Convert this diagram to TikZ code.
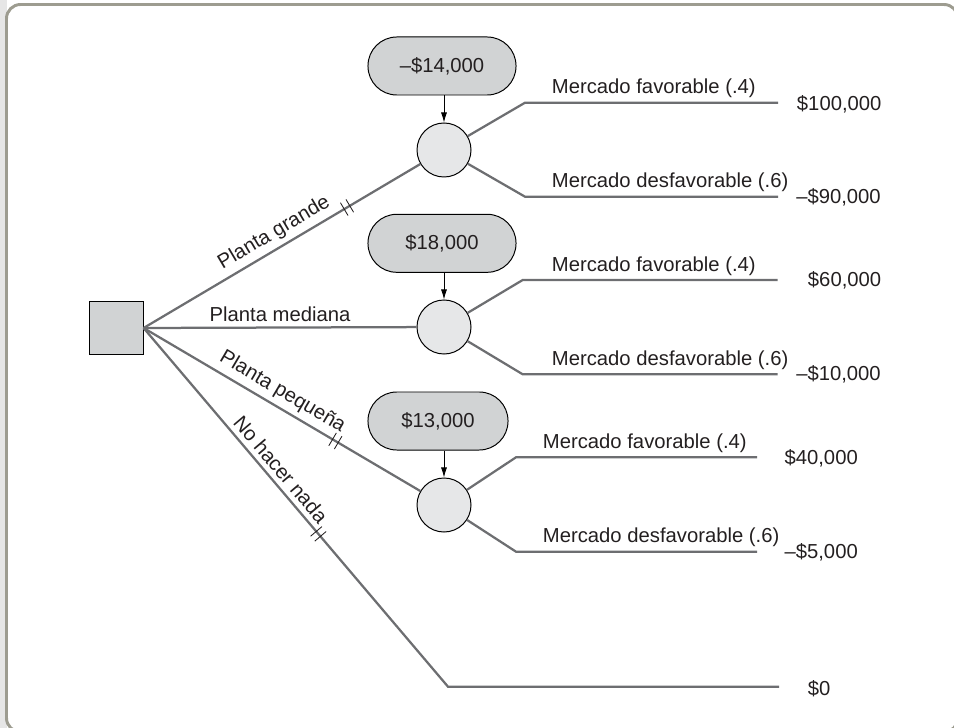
\documentclass[tikz,border=0pt]{standalone}
\usepackage{fontspec}
\setmainfont{Liberation Sans}
\usepackage{tikz}
\usetikzlibrary{arrows.meta, positioning}
\definecolor{mybranch}{HTML}{6D6E71}
\definecolor{mybox}{HTML}{D1D3D4}
\definecolor{mychance}{HTML}{E6E7E8}
\definecolor{myframe}{HTML}{9D9C90}
\definecolor{mystrip}{HTML}{E6E6E6}
\definecolor{mytext}{HTML}{231F20}

\begin{document}
\begin{tikzpicture}[
        x=0.025cm, y=-0.025cm,
        font=\fontsize{14.4}{17}\selectfont, text=mytext,
        decision/.style={rectangle, draw, line width=0.7pt, fill=mybox, minimum size=1.33cm, inner sep=0pt},
        chance/.style={circle, draw, line width=0.7pt, fill=mychance, minimum size=1.35cm, inner sep=0pt},
        cost/.style={rectangle, draw, line width=0.7pt, fill=mybox, rounded corners=0.72cm, minimum width=3.7cm, minimum height=1.45cm},
        lbl/.style={anchor=base west, inner sep=0pt},
        payoff/.style={anchor=base west, inner sep=0pt},
        branch/.style={draw=mybranch, line width=1.6pt},
        hash/.style={sloped, minimum width=3pt, minimum height=9pt, inner sep=0pt},
        line/.style={-{Latex[length=2.5mm, width=1.5mm]}, line width=0.6pt}
    ]
    \useasboundingbox (0,0) rectangle (954,728);
    \fill[mystrip] (0,0) rectangle (6.5,728);
    \draw[myframe, line width=2.1pt, rounded corners=0.35cm] (6.5,4.5) rectangle (958,732);

    \node [decision] (dec) at (116.5,328) {};
    \node [chance] (c1) at (444,150) {};
    \node [chance] (c2) at (444,327) {};
    \node [chance] (c3) at (444,505) {};
    \node [cost] (v1) at (442,66) {–\$14,000};
    \node [cost] (v2) at (442,243.3) {\$18,000};
    \node [cost, minimum width=3.5cm] (v3) at (438,421) {\$13,000};

    \coordinate (k1a) at (525,102.7);   \coordinate (e1a) at (778,102.7);
    \coordinate (k1b) at (525,196.7);   \coordinate (e1b) at (778,196.7);
    \coordinate (k2a) at (522.7,280);   \coordinate (e2a) at (777.7,280);
    \coordinate (k2b) at (522.7,374.3); \coordinate (e2b) at (777.7,374.3);
    \coordinate (k3a) at (516,457.3);   \coordinate (e3a) at (757,457.3);
    \coordinate (k3b) at (516,551.7);   \coordinate (e3b) at (757,551.7);
    \coordinate (c0) at (448,686.7);    \coordinate (e0) at (779,686.7);

    \draw[branch] (dec.east) -- node[pos=0.5, sloped, above] {Planta grande} node[pos=0.735, hash] (t1) {} (c1);
    \draw[branch] (dec.east) -- node[midway, above] {Planta mediana} (c2);
    \draw[branch] (dec.east) -- node[pos=0.474, sloped, above] {Planta pequeña} node[pos=0.693, hash] (t2) {} (c3);
    \draw[branch] (dec.east) -- node[pos=0.418, sloped, above] {No hacer nada} node[pos=0.574, hash] (t3) {} (c0) -- (e0);
    \foreach \t in {t1,t2,t3}
        \draw[mytext, line width=0.6pt] (\t.north west) -- (\t.south west) (\t.north east) -- (\t.south east);

    \draw[branch] (c1) -- (k1a) -- (e1a);
    \draw[branch] (c1) -- (k1b) -- (e1b);
    \draw[branch] (c2) -- (k2a) -- (e2a);
    \draw[branch] (c2) -- (k2b) -- (e2b);
    \draw[branch] (c3) -- (k3a) -- (e3a);
    \draw[branch] (c3) -- (k3b) -- (e3b);

    \draw[line] (v1.south -| c1.north) -- (c1.north);
    \draw[line] (v2.south -| c2.north) -- (c2.north);
    \draw[line] (v3.south -| c3.north) -- (c3.north);

    \node [lbl] (m1a) at (551.7,93.5) {Mercado favorable (.4)};
    \node [lbl] (m1b) at (551.7,188) {Mercado desfavorable (.6)};
    \node [lbl] (m2a) at (551.7,271.7) {Mercado favorable (.4)};
    \node [lbl] (m2b) at (551.7,365.5) {Mercado desfavorable (.6)};
    \node [lbl] (m3a) at (542.7,448.3) {Mercado favorable (.4)};
    \node [lbl] (m3b) at (542.7,542.3) {Mercado desfavorable (.6)};

    \node [payoff] (p1a) at (796.7,110.5) {\$100,000};
    \node [payoff] (p1b) at (796,204) {–\$90,000};
    \node [payoff] (p2a) at (807.7,287) {\$60,000};
    \node [payoff] (p2b) at (796,380.5) {–\$10,000};
    \node [payoff] (p3a) at (784.3,464) {\$40,000};
    \node [payoff] (p3b) at (784.3,558.3) {–\$5,000};
    \node [payoff] (p0) at (807.7,695) {\$0};
\end{tikzpicture}
\end{document}
